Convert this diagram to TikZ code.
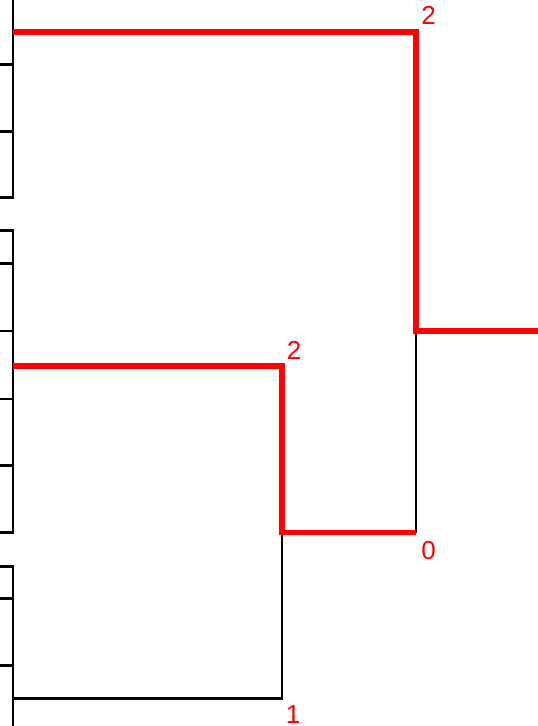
\documentclass[tikz,border=0pt]{standalone}
\usepackage{fontspec}
\setmainfont{Liberation Sans}

\begin{document}
\begin{tikzpicture}[x=1pt, y=-1pt,
    edge/.style={line width=2.8pt, black},
    hot/.style={line width=5.7pt, red},
    lbl/.style={inner sep=0pt, text=red, font=\fontsize{26}{26}\selectfont}]
    \useasboundingbox (0,0) rectangle (538,726);

    % Leaf brackets
    \draw[edge] (13,-5) -- (13,197.3) -- (-5,197.3);
    \draw[edge] (-5,230.7) -- (13,230.7) -- (13,532.3) -- (-5,532.3);
    \draw[edge] (-5,566.7) -- (13,566.7) -- (13,731);
    \foreach \y in {64.7,131.3,263.3,331,399,465.7,598.3,665.3}
        \draw[edge] (-5,\y) -- (13,\y);

    % Junctions
    \coordinate (top) at (13,32);
    \coordinate (root) at (416,331);
    \coordinate (out) at (543,331);
    \coordinate (join) at (416,532.5);
    \coordinate (midleaf) at (13,365.7);
    \coordinate (mid) at (282,532.5);
    \coordinate (low) at (13,698.3);

    % Black branches
    \draw[edge] (root) -- (join);
    \draw[edge] (mid) |- (low);

    % Highlighted path
    \draw[hot] (top) -| (root) -- (out);
    \draw[hot] (midleaf) -| (mid) -- (join);

    % Counts
    \node[lbl] (cnttop) at (428.5,15) {2};
    \node[lbl] (cntmid) at (294,350) {2};
    \node[lbl] (cntjoin) at (428.5,551) {0};
    \node[lbl] (cntlow) at (293,714.5) {1};
\end{tikzpicture}
\end{document}
